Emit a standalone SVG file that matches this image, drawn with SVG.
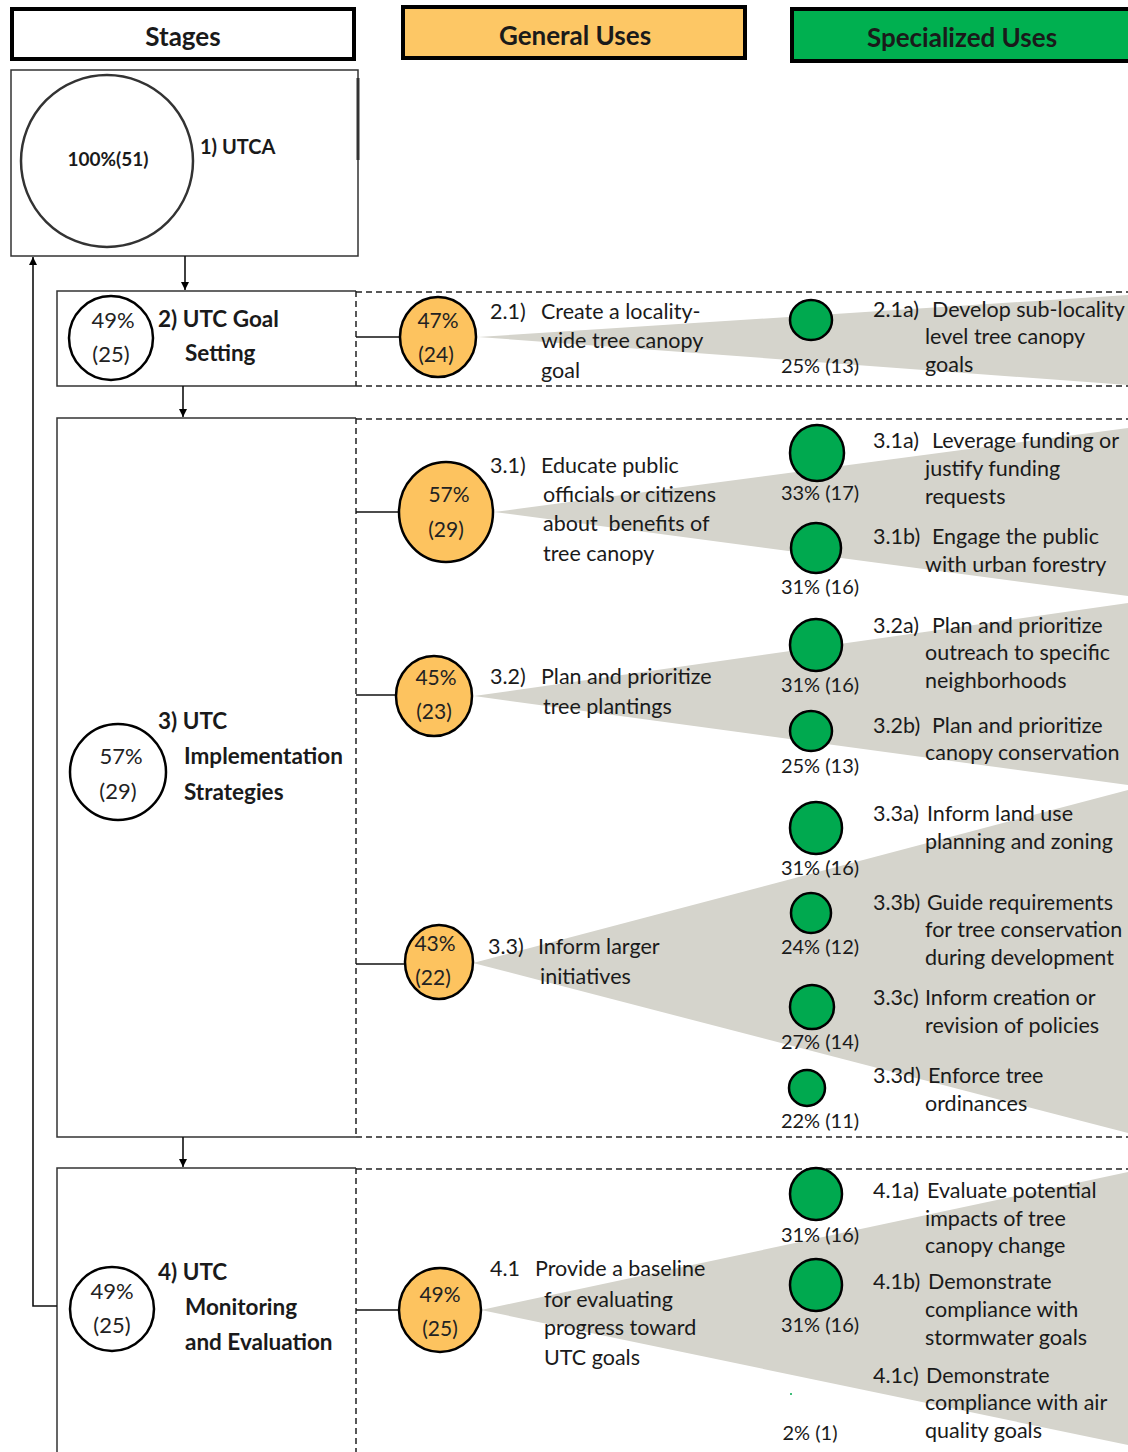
<svg xmlns="http://www.w3.org/2000/svg" width="1128" height="1452" viewBox="0 0 1128 1452">
<defs>
<style>
text{font-family:Lato,"Liberation Sans",sans-serif;fill:#1a1a1a}
.hdr{font-size:26px;font-weight:700;text-anchor:middle}
.st{font-size:22.5px;font-weight:700}
.sc{font-size:22px;text-anchor:middle;fill:#222}
.yt{font-size:21px;text-anchor:middle;fill:#222}
.t{font-size:21.5px}
.pc{font-size:20px;text-anchor:middle}
.yc{fill:#FDC35F;stroke:#000;stroke-width:2.5}
.gc{fill:#00A94F;stroke:#000;stroke-width:2.5}
.wc{fill:#fff;stroke:#000;stroke-width:2.5}
.box{fill:#fff;stroke:#333;stroke-width:1.5}
.dash{fill:none;stroke:#222;stroke-width:1.5;stroke-dasharray:6 4}
.wedge{fill:#D5D4CC}
.ln{fill:none;stroke:#111;stroke-width:1.6}
</style>
<marker id="ah" viewBox="0 0 10 10" refX="10" refY="5" markerWidth="8" markerHeight="8" orient="auto-start-reverse" markerUnits="userSpaceOnUse">
<path d="M0,0 L10,5 L0,10 z" fill="#000"/>
</marker>
</defs>
<rect width="1128" height="1452" fill="#fff"/>

<!-- headers -->
<g id="hdr-stages"><rect x="12" y="9" width="342" height="50" fill="#fff" stroke="#000" stroke-width="4"/><text class="hdr" x="183" y="46">Stages</text></g>
<g id="hdr-general"><rect x="403" y="7" width="342" height="51" fill="#FDC765" stroke="#000" stroke-width="4"/><text class="hdr" x="575" y="45">General Uses</text></g>
<g id="hdr-special"><rect x="792" y="9" width="340" height="52" fill="#00B050" stroke="#000" stroke-width="4"/><text class="hdr" x="962" y="47">Specialized Uses</text></g>

<!-- wedges -->
<g id="wedges">
<polygon class="wedge" points="478,337 1128,295 1128,385"/>
<polygon class="wedge" points="494,512 1128,428 1128,596"/>
<polygon class="wedge" points="474,696 1128,603 1128,785"/>
<polygon class="wedge" points="473,963 1128,790 1128,1133"/>
<polygon class="wedge" points="481,1310 1128,1172 1128,1445"/>
</g>

<!-- dashed row borders -->
<g id="row-borders">
<line class="dash" x1="356" y1="292" x2="1128" y2="292"/>
<line class="dash" x1="356" y1="386" x2="1128" y2="386"/>
<line class="dash" x1="356" y1="419" x2="1128" y2="419"/>
<line class="dash" x1="356" y1="1137" x2="1128" y2="1137"/>
<line class="dash" x1="356" y1="1169" x2="1128" y2="1169"/>
</g>

<!-- stage 1 -->
<g id="stage1">
<rect class="box" x="11" y="70" width="347" height="186"/>
<line x1="358" y1="78" x2="358" y2="160" stroke="#333" stroke-width="3"/>
<circle cx="107" cy="161" r="86" fill="#fff" stroke="#333" stroke-width="2.5"/>
<text x="108" y="166" font-size="19" text-anchor="middle" fill="#6a6a6a" font-weight="700">100%(51)</text>
<text x="200" y="154" font-size="20" fill="#6a6a6a" font-weight="700">1) UTCA</text>
</g>

<!-- stage 2 -->
<g id="stage2">
<path d="M356,291 H57 V386 H356" class="box"/>
<line class="dash" x1="356" y1="291" x2="356" y2="386"/>
<circle class="wc" cx="111" cy="338" r="42"/>
<text class="sc" x="113" y="328">49%</text>
<text class="sc" x="111" y="362">(25)</text>
<text class="st" x="158" y="327">2) UTC Goal</text>
<text class="st" x="185" y="361">Setting</text>
</g>

<!-- stage 3 -->
<g id="stage3">
<path d="M356,418 H57 V1137 H356" class="box"/>
<line class="dash" x1="356" y1="418" x2="356" y2="1137"/>
<circle class="wc" cx="118" cy="772" r="48"/>
<text class="sc" x="121" y="764">57%</text>
<text class="sc" x="118" y="799">(29)</text>
<text class="st" x="158" y="729">3) UTC</text>
<text class="st" x="184" y="764">Implementation</text>
<text class="st" x="184" y="800">Strategies</text>
</g>

<!-- stage 4 -->
<g id="stage4">
<path d="M356,1168 H57 V1452" class="box"/>
<line class="dash" x1="356" y1="1168" x2="356" y2="1452"/>
<circle class="wc" cx="112" cy="1309" r="42"/>
<text class="sc" x="112" y="1299">49%</text>
<text class="sc" x="112" y="1333">(25)</text>
<text class="st" x="158" y="1280">4) UTC</text>
<text class="st" x="185" y="1315">Monitoring</text>
<text class="st" x="185" y="1350">and Evaluation</text>
</g>

<!-- connectors -->
<g id="connectors">
<line class="ln" x1="185" y1="256" x2="185" y2="290" marker-end="url(#ah)"/>
<line class="ln" x1="183" y1="386" x2="183" y2="417" marker-end="url(#ah)"/>
<line class="ln" x1="183" y1="1137" x2="183" y2="1167" marker-end="url(#ah)"/>
<polyline class="ln" points="57,1306 33,1306 33,257" marker-end="url(#ah)"/>
<line class="ln" x1="356" y1="337" x2="400" y2="337"/>
<line class="ln" x1="356" y1="512" x2="399" y2="512"/>
<line class="ln" x1="356" y1="695" x2="396" y2="695"/>
<line class="ln" x1="356" y1="964" x2="405" y2="964"/>
<line class="ln" x1="356" y1="1310" x2="399" y2="1310"/>
</g>

<!-- general uses -->
<g id="g21">
<ellipse class="yc" cx="438" cy="337" rx="38" ry="40"/>
<text class="yt" x="438" y="328">47%</text><text class="yt" x="436" y="362">(24)</text>
<text class="t" x="490" y="319">2.1)</text><text class="t" x="541" y="319">Create a locality-</text>
<text class="t" x="541" y="348">wide tree canopy</text><text class="t" x="541" y="378">goal</text>
</g>
<g id="g31">
<ellipse class="yc" cx="446" cy="512" rx="47" ry="50"/>
<text class="yt" x="449" y="502">57%</text><text class="yt" x="446" y="537">(29)</text>
<text class="t" x="490" y="473">3.1)</text><text class="t" x="541" y="473">Educate public</text>
<text class="t" x="543" y="502">officials or citizens</text><text class="t" x="543" y="531" xml:space="preserve">about  benefits of</text>
<text class="t" x="543" y="561">tree canopy</text>
</g>
<g id="g32">
<ellipse class="yc" cx="434" cy="696" rx="38" ry="40"/>
<text class="yt" x="436" y="685">45%</text><text class="yt" x="434" y="719">(23)</text>
<text class="t" x="490" y="684">3.2)</text><text class="t" x="541" y="684">Plan and prioritize</text>
<text class="t" x="543" y="714">tree plantings</text>
</g>
<g id="g33">
<ellipse class="yc" cx="439" cy="962" rx="34" ry="37"/>
<text class="yt" x="435" y="951">43%</text><text class="yt" x="433" y="985">(22)</text>
<text class="t" x="488" y="954">3.3)</text><text class="t" x="538" y="954">Inform larger</text>
<text class="t" x="540" y="984">initiatives</text>
</g>
<g id="g41">
<ellipse class="yc" cx="440" cy="1310" rx="41" ry="42"/>
<text class="yt" x="440" y="1302">49%</text><text class="yt" x="440" y="1336">(25)</text>
<text class="t" x="490" y="1276">4.1</text><text class="t" x="535" y="1276">Provide a baseline</text>
<text class="t" x="544" y="1307">for evaluating</text><text class="t" x="544" y="1335">progress toward</text>
<text class="t" x="544" y="1365">UTC goals</text>
</g>

<!-- specialized uses -->
<g id="s21a">
<ellipse class="gc" cx="811" cy="320" rx="21" ry="20"/><text class="pc" x="820" y="373">25% (13)</text>
<text class="t" x="873" y="317">2.1a)</text><text class="t" x="932" y="317">Develop sub-locality</text>
<text class="t" x="925" y="344">level tree canopy</text><text class="t" x="925" y="372">goals</text>
</g>
<g id="s31a">
<ellipse class="gc" cx="817" cy="453" rx="27" ry="28"/><text class="pc" x="820" y="500">33% (17)</text>
<text class="t" x="873" y="448">3.1a)</text><text class="t" x="932" y="448">Leverage funding or</text>
<text class="t" x="925" y="476">justify funding</text><text class="t" x="925" y="504">requests</text>
</g>
<g id="s31b">
<ellipse class="gc" cx="816" cy="548" rx="25" ry="25"/><text class="pc" x="820" y="594">31% (16)</text>
<text class="t" x="873" y="544">3.1b)</text><text class="t" x="932" y="544">Engage the public</text>
<text class="t" x="925" y="572">with urban forestry</text>
</g>
<g id="s32a">
<ellipse class="gc" cx="816" cy="645" rx="26" ry="26"/><text class="pc" x="820" y="692">31% (16)</text>
<text class="t" x="873" y="633">3.2a)</text><text class="t" x="932" y="633">Plan and prioritize</text>
<text class="t" x="925" y="660">outreach to specific</text><text class="t" x="925" y="688">neighborhoods</text>
</g>
<g id="s32b">
<ellipse class="gc" cx="811" cy="731" rx="21" ry="20"/><text class="pc" x="820" y="773">25% (13)</text>
<text class="t" x="873" y="733">3.2b)</text><text class="t" x="932" y="733">Plan and prioritize</text>
<text class="t" x="925" y="760">canopy conservation</text>
</g>
<g id="s33a">
<ellipse class="gc" cx="816" cy="828" rx="26" ry="26"/><text class="pc" x="820" y="875">31% (16)</text>
<text class="t" x="873" y="821">3.3a)</text><text class="t" x="927" y="821">Inform land use</text>
<text class="t" x="925" y="849">planning and zoning</text>
</g>
<g id="s33b">
<ellipse class="gc" cx="811" cy="913" rx="20" ry="20"/><text class="pc" x="820" y="954">24% (12)</text>
<text class="t" x="873" y="910">3.3b)</text><text class="t" x="927" y="910">Guide requirements</text>
<text class="t" x="925" y="937">for tree conservation</text><text class="t" x="925" y="965">during development</text>
</g>
<g id="s33c">
<ellipse class="gc" cx="812" cy="1007" rx="22" ry="22"/><text class="pc" x="820" y="1049">27% (14)</text>
<text class="t" x="873" y="1005">3.3c)</text><text class="t" x="925" y="1005">Inform creation or</text>
<text class="t" x="925" y="1033">revision of policies</text>
</g>
<g id="s33d">
<ellipse class="gc" cx="807" cy="1088" rx="18" ry="18"/><text class="pc" x="820" y="1128">22% (11)</text>
<text class="t" x="873" y="1083">3.3d)</text><text class="t" x="928" y="1083">Enforce tree</text>
<text class="t" x="925" y="1111">ordinances</text>
</g>
<g id="s41a">
<ellipse class="gc" cx="816" cy="1194" rx="26" ry="26"/><text class="pc" x="820" y="1242">31% (16)</text>
<text class="t" x="873" y="1198">4.1a)</text><text class="t" x="927" y="1198">Evaluate potential</text>
<text class="t" x="925" y="1226">impacts of tree</text><text class="t" x="925" y="1253">canopy change</text>
</g>
<g id="s41b">
<ellipse class="gc" cx="816" cy="1285" rx="26" ry="26"/><text class="pc" x="820" y="1332">31% (16)</text>
<text class="t" x="873" y="1289">4.1b)</text><text class="t" x="928" y="1289">Demonstrate</text>
<text class="t" x="925" y="1317">compliance with</text><text class="t" x="925" y="1345">stormwater goals</text>
</g>
<g id="s41c">
<circle cx="791" cy="1394" r="1" fill="#00A94F"/><text class="pc" x="810" y="1440">2% (1)</text>
<text class="t" x="873" y="1383">4.1c)</text><text class="t" x="926" y="1383">Demonstrate</text>
<text class="t" x="925" y="1410">compliance with air</text><text class="t" x="925" y="1438">quality goals</text>
</g>
</svg>
